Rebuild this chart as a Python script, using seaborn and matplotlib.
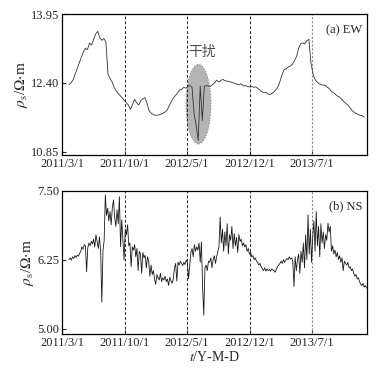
import numpy as np
import pandas as pd
import matplotlib
matplotlib.use('Agg')
import matplotlib.pyplot as plt
import matplotlib.dates as mdates
from matplotlib.patches import Ellipse
import seaborn as sns

sns.set_style('ticks')
plt.rcParams['font.family'] = ['Liberation Serif', 'DejaVu Serif']
plt.rcParams['mathtext.fontset'] = 'stix'

# apparent resistivity, EW channel (weekly readings)
ew_start = '2011-03-25'
ew_vals = [12.36, 12.40, 12.47, 12.60, 12.72, 12.85, 12.98, 13.10, 13.18, 13.15,
           13.30, 13.25, 13.38, 13.50, 13.56, 13.42, 13.36, 13.40, 13.32, 12.60,
           12.50, 12.42, 12.30, 12.22, 12.16, 12.11, 12.06, 12.00, 11.95, 11.90,
           11.80, 11.92, 12.03, 11.95, 11.90, 12.00, 12.04, 12.07, 11.95, 11.78,
           11.72, 11.69, 11.67, 11.67, 11.68, 11.70, 11.72, 11.75, 11.80, 11.90,
           np.nan, 12.07, 12.12, 12.18, 12.24, 12.26, 12.30, 12.28, 12.32, 12.34,
           12.30, 11.70, 11.45, 11.10, 12.33, 11.55, 12.32, 12.34, 12.33, 12.32,
           12.36, 12.40, 12.46, 12.42, 12.45, 12.48, 12.45, 12.44, 12.43, 12.42,
           12.40, 12.39, 12.37, 12.36, 12.38, 12.33, 12.34, 12.32, 12.31, 12.32,
           12.30, 12.31, 12.28, 12.24, 12.20, 12.18, 12.19, 12.15, 12.14, 12.16,
           12.20, 12.25, 12.32, 12.45, 12.60, 12.70, 12.72, 12.76, 12.78, 12.82,
           12.90, 13.00, 13.18, 13.28, 13.30, 13.28, 13.35, 13.38, 12.85, 12.60,
           12.48, 12.42, 12.38, 12.36, 12.35, 12.34, 12.30, 12.27, 12.20, 12.18,
           12.14, 12.10, 12.08, 12.03, 11.98, 11.94, 11.90, 11.84, 11.78, 11.74,
           11.71, 11.69, 11.67, 11.66, 11.63]

# apparent resistivity, NS channel (4-day readings)
ns_start = '2011-03-25'
ns_vals = [6.25, 6.28, 6.24, 6.30, 6.27, 6.32, 6.29, 6.33, 6.31, 6.36,
           6.40, 6.48, 6.44, 6.52, 6.50, 6.03, 6.46, 6.55, 6.50, 6.58,
           6.53, 6.62, 6.48, 6.70, 6.58, 6.45, 6.66, 6.40, 5.48, 6.42,
           6.60, 7.42, 7.05, 7.18, 6.95, 7.12, 6.88, 7.20, 7.33, 7.00,
           6.85, 7.15, 6.90, 7.39, 6.48, 6.97, 6.62, 6.24, 6.80, 6.70,
           6.88, 6.50, 6.55, 6.12, 6.48, 6.42, 6.52, 6.30, 6.45, 6.05,
           6.40, 6.35, 6.00, 6.38, 6.28, 6.33, 6.10, 6.30, 6.22, 5.95,
           6.15, 5.98, 6.05, 5.90, 5.80, 5.98, 5.92, 5.88, 6.00, 5.85,
           5.92, 5.88, 5.95, 5.85, 5.90, 5.78, 5.93, 5.87, 5.82, 5.90,
           6.10, 6.18, 5.86, 6.20, 6.15, 6.22, 6.18, 6.14, 6.20, 6.16,
           6.24, 6.20, 5.90, 6.15, 6.38, 6.45, 6.30, 6.52, 6.40, 6.48,
           6.42, 6.55, 6.20, 6.57, 5.76, 5.24, 6.10, 6.15, 6.05, 6.22,
           6.20, 6.28, 6.10, 6.25, 6.32, 6.18, 6.30, 6.40, 6.48, 7.02,
           6.55, 6.80, 6.40, 6.75, 6.50, 6.90, 6.35, 6.70, 6.60, 6.85,
           6.45, 6.72, 6.50, 6.65, 6.38, 6.70, 6.58, 6.62, 6.50, 6.55,
           6.48, 6.52, 6.40, 6.45, 6.35, 6.38, 6.30, 6.32, 6.25, 6.28,
           6.22, 6.20, 6.15, 6.18, 6.12, 6.08, 6.05, 6.10, 6.04, 6.08,
           6.05, 6.07, 6.04, 6.08, 6.06, 6.05, 6.02, 6.08, 6.12, 6.15,
           6.18, 6.22, 6.18, 6.25, 6.20, 6.24, 6.27, 6.25, 6.30, 6.26,
           6.28, 6.22, 5.76, 6.30, 6.05, 6.25, 6.35, 6.00, 6.40, 6.20,
           6.55, 6.10, 6.70, 6.25, 7.06, 6.35, 6.80, 6.20, 6.65, 6.95,
           6.40, 7.12, 6.50, 6.85, 6.30, 6.90, 6.55, 6.75, 6.45, 6.70,
           6.60, 6.91, 6.75, 6.85, 6.40, 6.50, 6.35, 6.42, 6.30, 6.38,
           6.25, 6.32, 6.20, 6.28, 6.05, 6.22, 6.18, 6.15, 6.20, 6.10,
           6.12, 6.05, 6.08, 6.00, 5.95, 5.98, 5.90, 5.92, 5.85, 5.80,
           5.78, 5.82, 5.75, 5.78, 5.73]

tick_dates = ['2011-03-01', '2011-10-01', '2012-05-01', '2012-12-01', '2013-07-01']
tick_labels = ['2011/3/1', '2011/10/1', '2012/5/1', '2012/12/1', '2013/7/1']
x_end = '2014-01-05'

ew = pd.DataFrame({'date': pd.date_range(ew_start, periods=len(ew_vals), freq='7D'),
                   'rho': ew_vals})
ns = pd.DataFrame({'date': pd.date_range(ns_start, periods=len(ns_vals), freq='4D'),
                   'rho': ns_vals})
ticks = pd.to_datetime(tick_dates)

fig = plt.figure(figsize=(3.85, 3.70), dpi=100)
ax1 = fig.add_axes([0.161, 0.581, 0.792, 0.381])
ax2 = fig.add_axes([0.161, 0.097, 0.792, 0.388])

# interference zone
ell = Ellipse((mdates.date2num(pd.Timestamp('2012-06-09')), 11.92), width=85, height=1.79,
              facecolor='#b4b4b4', edgecolor='#888888', linestyle=':', lw=0.8, zorder=1)
ax1.add_patch(ell)

sns.lineplot(data=ew, x='date', y='rho', ax=ax1, color='0.2', lw=0.6, zorder=3)
sns.lineplot(data=ns, x='date', y='rho', ax=ax2, color='0.1', lw=0.6, zorder=3)

for ax, lims, yt, tag in [(ax1, (10.775, 13.95), [10.85, 12.40, 13.95], '(a) EW'),
                          (ax2, (4.90, 7.50), [5.00, 6.25, 7.50], '(b) NS')]:
    ax.set_xlim(pd.Timestamp(tick_dates[0]), pd.Timestamp(x_end))
    ax.set_ylim(*lims)
    ax.set_yticks(yt)
    ax.set_yticklabels([f'{v:.2f}' for v in yt])
    ax.set_xticks(ticks)
    ax.set_xticklabels(tick_labels)
    for t in ticks[1:-1]:
        ax.axvline(t, color='0.15', ls=(0, (3, 2)), lw=0.7, zorder=2)
    ax.axvline(ticks[-1], color='0.55', ls=(0, (2, 1.5)), lw=0.8, zorder=2)
    ax.tick_params(direction='in', labelsize=9, length=3, width=0.8, pad=2)
    for s in ax.spines.values():
        s.set_linewidth(0.9)
        s.set_color('black')
    ax.set_xlabel('')
    ax.set_ylabel(r'$\rho_{\mathrm{s}}$/$\Omega$$\cdot$m', fontsize=11, labelpad=1)
    ax.text(0.985, 0.93, tag, transform=ax.transAxes, ha='right', va='top', fontsize=9)

ax1.text(pd.Timestamp('2012-06-20'), 13.09, '干扰', ha='center', va='center',
         fontsize=10, color='0.3', family=['Noto Sans CJK SC', 'DejaVu Sans'])
ax2.set_xlabel(r'$t$/Y-M-D', fontsize=10, labelpad=1)

fig.savefig('out.png', dpi=100)
